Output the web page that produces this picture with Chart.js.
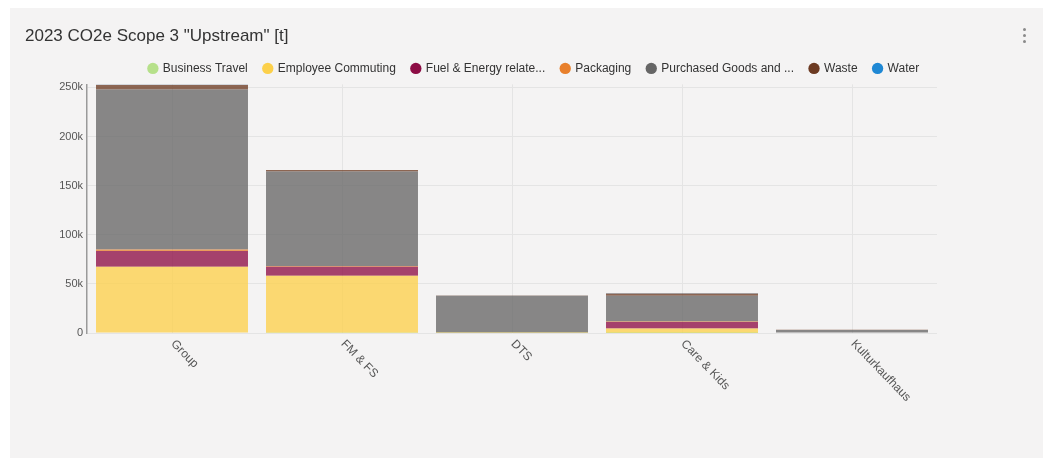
<!DOCTYPE html>
<html>
<head>
<meta charset="utf-8">
<script src="https://cdn.jsdelivr.net/npm/chart.js@4"></script>
<style>
  body { margin: 0; background: #fff; font-family: "Liberation Sans", Arial, sans-serif; }
  .card { position: absolute; left: 10px; top: 8px; width: 1033px; height: 450px; background: #f4f3f3; }
  .menu { position: absolute; left: 1013px; top: 20px; width: 4px; }
  .menu span { display: block; width: 3px; height: 3px; border-radius: 50%; background: #8a8a8a; margin-bottom: 3px; }
</style>
</head>
<body>
<div class="card">
  <canvas id="scope3" width="1033" height="450"></canvas>
  <div class="menu"><span></span><span></span><span></span></div>
</div>
<script>
const categories = ['Group', 'FM & FS', 'DTS', 'Care & Kids', 'Kulturkaufhaus'];

// tonnes CO2e per category
const businessTravel    = [400, 300, 100, 100, 0];
const employeeCommuting = [67000, 58000, 200, 4500, 0];
const fuelEnergy        = [16000, 9000, 200, 6500, 0];
const packaging         = [1500, 1000, 300, 700, 0];
const purchasedGoods    = [163000, 96000, 37000, 26000, 3000];
const waste             = [4800, 1500, 300, 2500, 200];
const water             = [300, 200, 100, 100, 0];

const yTicks = [0, 50000, 100000, 150000, 200000, 250000];

const series = [
  ['Business Travel', businessTravel, '#b6e08a'],
  ['Employee Commuting', employeeCommuting, '#fcd04a'],
  ['Fuel & Energy relate...', fuelEnergy, '#8c0c44'],
  ['Packaging', packaging, '#e8802c'],
  ['Purchased Goods and ...', purchasedGoods, '#666666'],
  ['Waste', waste, '#6c3a22'],
  ['Water', water, '#1f88d4']
];

const FONT = '"Liberation Sans", Arial, sans-serif';

// x labels slant down to the right, so they are painted here
const slantedLabels = {
  id: 'slantedLabels',
  afterDraw(chart) {
    const x = chart.scales.x;
    const ctx = chart.ctx;
    ctx.save();
    ctx.font = '12px ' + FONT;
    ctx.fillStyle = '#555';
    ctx.textAlign = 'left';
    ctx.textBaseline = 'middle';
    x.getLabels().forEach((label, i) => {
      ctx.save();
      ctx.translate(x.getPixelForTick(i) + 1, x.top + 9);
      ctx.rotate(46 * Math.PI / 180);
      ctx.fillText(label, 0, 0);
      ctx.restore();
    });
    ctx.restore();
  }
};

new Chart(document.getElementById('scope3'), {
  type: 'bar',
  data: {
    labels: categories,
    datasets: series.map(([label, data, color]) => ({
      label,
      data,
      backgroundColor: color + 'c4',
      borderWidth: 0,
      barPercentage: 0.894,
      categoryPercentage: 1
    }))
  },
  options: {
    responsive: false,
    animation: false,
    layout: { padding: { left: 15, top: 12, right: 0, bottom: 0 } },
    plugins: {
      title: {
        display: true,
        text: '2023 CO2e Scope 3 "Upstream" [t]',
        align: 'start',
        color: '#333',
        font: { family: FONT, size: 17, weight: 'normal' },
        padding: { top: 6, bottom: 0 }
      },
      legend: {
        labels: {
          usePointStyle: true,
          pointStyle: 'circle',
          boxWidth: 8,
          boxHeight: 8,
          color: '#333',
          padding: 16,
          font: { family: FONT, size: 12 },
          generateLabels(chart) {
            const items = Chart.defaults.plugins.legend.labels.generateLabels(chart);
            items.forEach((item, i) => {
              item.fillStyle = series[i][2];
              item.strokeStyle = series[i][2];
              item.lineWidth = 0;
            });
            return items;
          }
        }
      },
      tooltip: { enabled: false }
    },
    scales: {
      x: {
        stacked: true,
        grid: { color: '#e4e4e4', offset: false, drawTicks: false },
        border: { display: false },
        ticks: { display: false },
        afterFit(scale) { scale.height = 125; }
      },
      y: {
        stacked: true,
        min: 0,
        max: 253000,
        afterBuildTicks(scale) {
          scale.ticks = yTicks.map(v => ({ value: v }));
        },
        ticks: {
          color: '#555',
          padding: 4,
          font: { family: FONT, size: 11 },
          callback: v => v === 0 ? '0' : (v / 1000) + 'k'
        },
        grid: { color: '#e4e4e4', drawTicks: false },
        border: { color: '#9a9a9a', width: 1.5 },
        afterFit(scale) { scale.width = 62; }
      },
      // empty right-hand axis keeps the plot narrower than the card
      pad: {
        position: 'right',
        display: true,
        grid: { display: false },
        border: { display: false },
        ticks: { display: false },
        afterFit(scale) { scale.width = 106; }
      }
    }
  },
  plugins: [slantedLabels]
});
</script>
</body>
</html>
